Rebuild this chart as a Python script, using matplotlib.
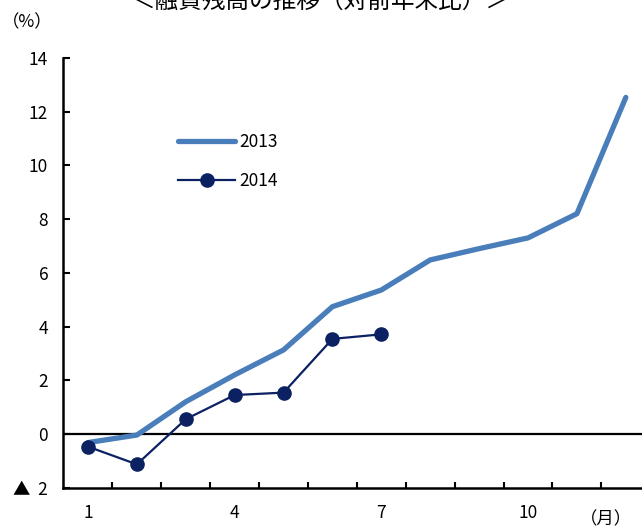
import matplotlib
matplotlib.use("Agg")
import matplotlib.pyplot as plt
from matplotlib.ticker import FixedLocator

plt.rcParams['font.family'] = ['Noto Sans CJK JP', 'DejaVu Sans']

months = list(range(1, 13))
y2013 = [-0.32, -0.04, 1.2, 2.2, 3.13, 4.74, 5.36, 6.48, 6.9, 7.3, 8.2, 12.53]
months_2014 = list(range(1, 8))
y2014 = [-0.47, -1.13, 0.55, 1.45, 1.54, 3.54, 3.71]

xtick_pos = [1, 4, 7, 10]
xtick_labels = ["1", "4", "7", "10"]
ytick_pos = [-2, 0, 2, 4, 6, 8, 10, 12, 14]
ytick_labels = ["▲  2", "0", "2", "4", "6", "8", "10", "12", "14"]

c2013 = "#4a7ebb"
c2014 = "#0b2161"

fig = plt.figure(figsize=(6.42, 5.28), dpi=100)
ax = fig.add_axes([0.0989, 0.0763, 0.914, 0.814])

ax.plot(months, y2013, color=c2013, lw=3.8, solid_capstyle="round",
        solid_joinstyle="round", label="2013", zorder=3)
ax.plot(months_2014, y2014, color=c2014, lw=1.6, marker="o", ms=9.5,
        label="2014", zorder=4)

ax.axhline(0, color="black", lw=1.6, zorder=2)

ax.set_xlim(0.5, 12.5)
ax.set_ylim(-2, 14)
ax.set_xticks(xtick_pos)
ax.set_xticklabels(xtick_labels)
ax.xaxis.set_minor_locator(FixedLocator([m + 0.5 for m in range(1, 12)]))
ax.tick_params(axis="x", which="major", length=0, pad=12, labelsize=12.5)
ax.tick_params(axis="x", which="minor", direction="in", length=4, width=1.5)
ax.set_yticks(ytick_pos)
ax.set_yticklabels(ytick_labels)
ax.tick_params(axis="y", direction="in", length=5, width=1.5, pad=11, labelsize=12.5)

for s in ["top", "right"]:
    ax.spines[s].set_visible(False)
for s in ["left", "bottom"]:
    ax.spines[s].set_linewidth(1.8)

ax.legend(loc="upper left", bbox_to_anchor=(178 / 642, 1 - 133 / 528),
          bbox_transform=fig.transFigure, frameon=False, fontsize=12.5,
          handlelength=3.3, handletextpad=0.25, labelspacing=1.2,
          borderpad=0, borderaxespad=0)

fig.text(0.5, 1 - 1 / 528, "＜融資残高の推移（対前年末比）＞", ha="center",
         va="center", fontsize=17)
fig.text(2 / 642, 1 - 22 / 528, "（%）", ha="left", va="center", fontsize=12.5)
fig.text(580 / 642, 1 - 519 / 528, "（月）", ha="left", va="center", fontsize=12.5)

fig.savefig("out.png", dpi=100)
